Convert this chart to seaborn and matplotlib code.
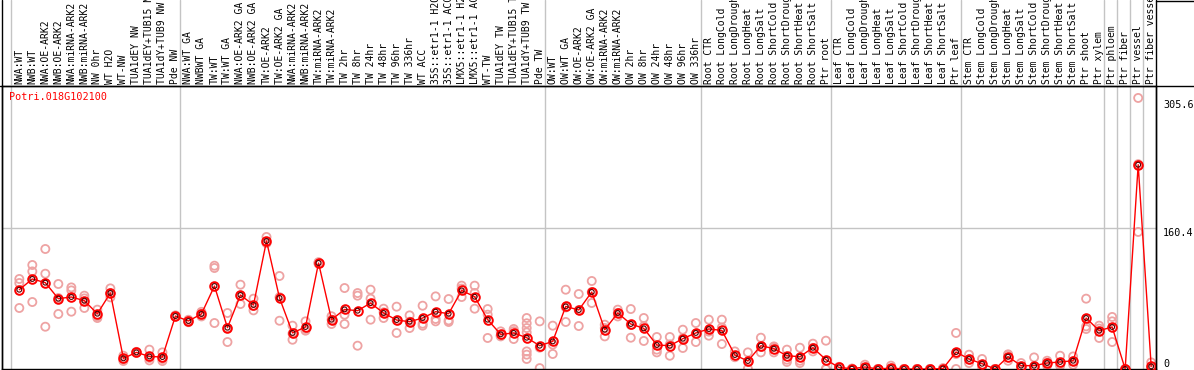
import matplotlib
matplotlib.use("Agg")
import matplotlib.pyplot as plt
import matplotlib.transforms as mtransforms
from matplotlib.lines import Line2D
import seaborn as sns
import numpy as np
import pandas as pd

sns.set_style("white")
plt.rcParams["font.family"] = ["DejaVu Sans Mono", "DejaVu Sans"]

# ---------------------------------------------------------------------------
# data
# ---------------------------------------------------------------------------
gene = "Potri.018G102100"

samples = [
    # NW group
    "NWA:WT", "NWB:WT", "NWA:OE-ARK2", "NWB:OE-ARK2", "NWA:miRNA-ARK2",
    "NWB:miRNA-ARK2", "NW 0hr", "WT H2O", "WT-NW", "TUA1dEY NW",
    "TUA1dEY+TUB15 NW", "TUA1dY+TUB9 NW", "Pde NW",
    # TW group
    "NWA:WT GA", "NWBWT GA", "TW:WT", "TW:WT GA", "NWA:OE-ARK2 GA",
    "NWB:OE-ARK2 GA", "TW:OE-ARK2", "TW:OE-ARK2 GA", "NWA:miRNA-ARK2",
    "NWB:miRNA-ARK2", "TW:miRNA-ARK2", "TW:miRNA-ARK2", "TW 2hr", "TW 8hr",
    "TW 24hr", "TW 48hr", "TW 96hr", "TW 336hr", "WT ACC", "35S::etr1-1 H2O",
    "35S::etr1-1 ACC", "LMX5::etr1-1 H2O", "LMX5::etr1-1 ACC", "WT-TW",
    "TUA1dEY TW", "TUA1dEY+TUB15 TW", "TUA1dY+TUB9 TW", "Pde TW",
    # OW group
    "OW:WT", "OW:WT GA", "OW:OE-ARK2", "OW:OE-ARK2 GA", "OW:miRNA-ARK2",
    "OW:miRNA-ARK2", "OW 2hr", "OW 8hr", "OW 24hr", "OW 48hr", "OW 96hr",
    "OW 336hr",
    # root
    "Root CTR", "Root LongCold", "Root LongDrought", "Root LongHeat",
    "Root LongSalt", "Root ShortCold", "Root ShortDrought", "Root ShortHeat",
    "Root ShortSalt", "Ptr root",
    # leaf
    "Leaf CTR", "Leaf LongCold", "Leaf LongDrought", "Leaf LongHeat",
    "Leaf LongSalt", "Leaf ShortCold", "Leaf ShortDrought", "Leaf ShortHeat",
    "Leaf ShortSalt", "Ptr leaf",
    # stem / wood
    "Stem CTR", "Stem LongCold", "Stem LongDrought", "Stem LongHeat",
    "Stem LongSalt", "Stem ShortCold", "Stem ShortDrought", "Stem ShortHeat",
    "Stem ShortSalt", "Ptr shoot", "Ptr xylem", "Ptr phloem", "Ptr fiber",
    "Ptr vessel", "Ptr fiber vessel",
]

means = [
    90.2, 102.4, 98.2, 80.0, 81.9, 77.7, 62.9, 86.5, 12.1, 18.9, 14.3, 13.6, 60.3,
    54.6, 62.6, 94.4, 47.0, 84.2, 72.8, 145.6, 80.8, 41.0, 47.8, 120.6, 56.1,
    67.8, 66.3, 75.0, 63.7, 55.7, 53.8, 58.0, 65.2, 62.9, 89.4, 82.2, 56.1,
    39.4, 41.0, 35.6, 26.5,
    31.4, 71.2, 67.1, 87.6, 44.7, 63.7, 51.2, 46.2, 27.3, 26.5, 34.5, 41.0,
    45.5, 43.9, 15.9, 9.1, 26.5, 23.1, 15.1, 14.0, 24.2, 10.6,
    1.8, 0.3, 2.3, 0.0, 1.1, 0.0, 0.0, 0.0, 0.5, 19.3,
    11.4, 6.0, 0.0, 14.0, 3.8, 3.8, 6.8, 8.0, 9.4, 58.0, 43.6,
    47.8, 0.0, 232.4, 3.0,
]

replicates = [
    [102.4, 97.8, 69.4], [118.3, 111.0, 76.2], [136.5, 108.4, 48.1],
    [96.7, 80.7, 62.6], [92.8, 89.4, 65.2], [83.4, 80.3, 69.4],
    [67.5, 59.8, 58.0], [91.7, 86.3, 81.5], [15.1, 10.6, 9.1],
    [19.5, 18.9, 18.3], [22.0, 12.5, 9.8], [18.9, 11.4, 9.1],
    [61.0, 60.3, 59.5],
    [56.0, 54.6, 53.2], [65.0, 63.0, 59.8], [117.5, 114.9, 52.3],
    [63.7, 46.6, 30.7], [95.9, 82.8, 73.9], [80.0, 71.7, 66.7],
    [150.2, 143.3, 143.3], [105.8, 81.7, 54.9], [49.3, 40.3, 33.3],
    [54.2, 45.6, 43.6], [121.5, 120.6, 119.7], [60.0, 56.1, 51.2],
    [92.1, 61.8, 51.2], [86.4, 83.4, 26.5], [90.2, 80.0, 56.1],
    [68.6, 64.5, 58.0], [70.9, 55.2, 41.0], [61.0, 53.8, 46.6],
    [72.0, 51.5, 49.3], [82.6, 56.9, 54.2], [79.6, 55.3, 53.5],
    [94.8, 91.5, 81.9], [94.8, 86.5, 68.6], [68.2, 61.8, 35.3],
    [42.8, 38.4, 37.1], [45.5, 43.0, 34.1],
    [58.0, 52.0, 46.6, 41.6, 20.0, 16.3, 11.4], [54.2, 24.3, 1.0],
    [49.3, 27.8, 17.1], [90.2, 70.0, 53.5], [85.3, 67.0, 48.9],
    [100.1, 87.6, 75.1], [50.4, 46.6, 37.1], [67.5, 63.8, 59.8],
    [68.2, 50.0, 35.6], [58.0, 48.7, 31.9], [36.4, 22.0, 18.9],
    [36.4, 28.0, 15.1], [44.7, 34.9, 23.9], [52.3, 40.0, 30.7],
    [56.1, 42.5, 37.9], [56.1, 47.2, 28.4], [20.0, 14.3, 13.4],
    [18.9, 8.0, 0.3], [35.6, 25.0, 18.9], [25.7, 24.7, 18.9],
    [22.0, 10.6, 8.0], [24.2, 9.4, 6.8], [28.8, 24.0, 20.0],
    [32.2, 0.0, 0.0],
    [2.5, 1.8, 1.0], [0.5, 0.3, 0.0], [4.9, 1.2, 0.8], [0.0, 0.0, 0.0],
    [3.8, 0.0, 0.0], [0.0, 0.0, 0.0], [0.0, 0.0, 0.0], [0.0, 0.0, 0.0],
    [1.0, 0.5, 0.0], [41.0, 17.0, 0.0],
    [16.3, 11.0, 6.8], [11.4, 4.5, 2.3], [0.0, 0.0, 0.0],
    [16.7, 15.9, 9.4], [6.8, 2.5, 2.0], [13.2, 0.0, 0.0],
    [9.4, 7.0, 3.8], [15.1, 5.0, 3.8], [14.3, 9.0, 4.9],
    [80.0, 48.5, 45.5], [49.3, 46.0, 35.3],
    [59.2, 54.2, 30.7], [0.0, 0.0, 0.0], [308.3, 233.0, 155.9],
    [7.5, 1.5, 0.0],
]

# last sample index of each block (a grey separator follows it)
group_ends = [-1, 12, 40, 52, 62, 72, 83, 84, 85, 86]
y_ticks = [305.6, 160.4, 0]

# ---------------------------------------------------------------------------
mean_df = pd.DataFrame({"idx": np.arange(len(samples)), "value": means})
rep_df = pd.DataFrame(
    [(i, v) for i, reps in enumerate(replicates) for v in reps],
    columns=["idx", "value"],
)

W, H = 1194, 370
fig = plt.figure(figsize=(W / 100, H / 100), dpi=100)
ax = fig.add_axes([2 / W, 1 / H, 1154 / W, 283 / H])
lab = fig.add_axes([2 / W, 284 / H, 1154 / W, 86 / H])

xlim = (-1.33, 87.37)
ax.set_xlim(xlim)
ax.set_ylim(0, 321.9)
lab.set_xlim(xlim)
lab.set_ylim(0, 1)

grey = "#c4c4c4"
for e in group_ends:
    ax.axvline(e + 0.38, color=grey, lw=1, zorder=0)
    lab.axvline(e + 0.38, color=grey, lw=1, zorder=0)
ax.axhline(160.4, color=grey, lw=1, zorder=0)

# replicate points
sns.scatterplot(
    data=rep_df, x="idx", y="value", ax=ax, marker="o", s=34,
    facecolors="none", edgecolor="#eea3a3", linewidth=1.3, zorder=2,
    legend=False, clip_on=True,
)
# mean profile
sns.lineplot(
    data=mean_df, x="idx", y="value", ax=ax, color="red", lw=1,
    marker="o", markersize=6.2, markerfacecolor="none",
    markeredgecolor="red", markeredgewidth=1.4, zorder=3, errorbar=None,
)
sns.scatterplot(
    data=mean_df, x="idx", y="value", ax=ax, marker="o", s=12,
    facecolors="none", edgecolor="#500000", linewidth=0.8, zorder=4,
    legend=False,
)

ax.set_xlabel("")
ax.set_ylabel("")
ax.set_xticks([])
ax.set_yticks([])
for s in ax.spines.values():
    s.set_color("black")
    s.set_linewidth(1)

lab.axis("off")

trans = mtransforms.blended_transform_factory(lab.transData, lab.transAxes)
for i, name in enumerate(samples):
    lab.text(i, 2.5 / 86, name, rotation=90, ha="center", va="bottom",
             fontsize=7, color="black", transform=trans)

# gene id
ax.text(7.5 / 1154, 1 - 6 / 283, gene, color="red", fontsize=7.3,
        ha="left", va="top", transform=ax.transAxes)

# value labels on the right
ytrans = mtransforms.blended_transform_factory(ax.transAxes, ax.transData)
for v in y_ticks:
    txt = f"{v:g}" if v else "0"
    ax.text(1.006, v, txt, ha="left", va="top" if v else "bottom",
            fontsize=7.3, color="black", transform=ytrans)

# outer rules
fig.add_artist(Line2D([0, 1], [284 / H, 284 / H], color="black", lw=1))
fig.add_artist(Line2D([1156 / W, 1], [1 - 0.5 / H, 1 - 0.5 / H], color="black", lw=1))
fig.add_artist(Line2D([1156 / W, 1156 / W], [0, 1], color="black", lw=1))
fig.add_artist(Line2D([2 / W, 2 / W], [0, 1], color="black", lw=1))

fig.savefig("out.png", dpi=100)
